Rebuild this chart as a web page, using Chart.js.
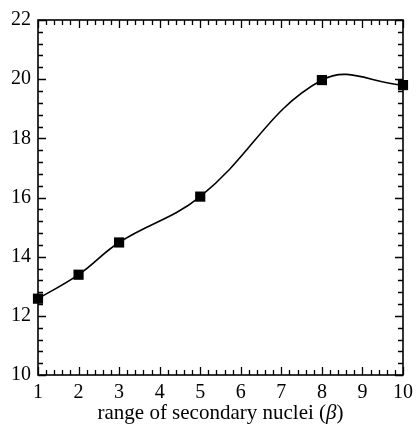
<!DOCTYPE html>
<html>
<head>
<meta charset="utf-8">
<script src="https://cdn.jsdelivr.net/npm/chart.js@4"></script>
<style>
  html, body { margin: 0; padding: 0; background: #fff; }
  #wrap { width: 419px; height: 426px; }
</style>
</head>
<body>
<div id="wrap"><canvas id="nucleiChart" width="419" height="426"></canvas></div>
<script>
// range of secondary nuclei vs. result
const betaRange = [1, 2, 3, 5, 8, 10];
const values = [12.58, 13.39, 14.48, 16.03, 19.97, 19.80];
const xTicks = [1, 2, 3, 4, 5, 6, 7, 8, 9, 10];
const yTicks = [10, 12, 14, 16, 18, 20, 22];

const serif = '"Liberation Serif", "Times New Roman", serif';

// inward ticks on all four sides + frame
const frameTicks = {
  id: 'frameTicks',
  afterDraw(chart) {
    const { ctx, chartArea: a, scales: { x, y } } = chart;
    ctx.save();
    ctx.strokeStyle = '#000';
    ctx.lineWidth = 1.3;
    ctx.beginPath();
    // x minor every 0.2, major every 1
    for (let i = 0; i <= 45; i++) {
      const v = 1 + i * 0.2;
      const px = Math.round(x.getPixelForValue(v)) + 0.5;
      const len = i % 5 === 0 ? 8 : 5;
      ctx.moveTo(px, a.bottom); ctx.lineTo(px, a.bottom - len);
      ctx.moveTo(px, a.top); ctx.lineTo(px, a.top + len);
    }
    // y minor every 0.4, major every 2
    for (let i = 0; i <= 30; i++) {
      const v = 10 + i * 0.4;
      const py = Math.round(y.getPixelForValue(v)) + 0.5;
      const len = i % 5 === 0 ? 8 : 5;
      ctx.moveTo(a.left, py); ctx.lineTo(a.left + len, py);
      ctx.moveTo(a.right, py); ctx.lineTo(a.right - len, py);
    }
    ctx.stroke();
    ctx.lineWidth = 1.6;
    ctx.strokeRect(a.left, a.top, a.right - a.left, a.bottom - a.top);
    ctx.restore();
  }
};

// axis title with italic beta
const xTitle = {
  id: 'xTitle',
  afterDraw(chart) {
    const { ctx, chartArea: a } = chart;
    const parts = [
      ['range of secondary nuclei (', '21px ' + serif],
      ['β', 'italic 21px ' + serif],
      [')', '21px ' + serif]
    ];
    ctx.save();
    ctx.fillStyle = '#000';
    ctx.textBaseline = 'alphabetic';
    let total = 0;
    parts.forEach(p => { ctx.font = p[1]; total += ctx.measureText(p[0]).width; });
    let cx = (a.left + a.right) / 2 - total / 2;
    parts.forEach(p => {
      ctx.font = p[1];
      ctx.fillText(p[0], cx, 419);
      cx += ctx.measureText(p[0]).width;
    });
    ctx.restore();
  }
};

new Chart(document.getElementById('nucleiChart'), {
  type: 'line',
  data: {
    datasets: [{
      data: betaRange.map((b, i) => ({ x: b, y: values[i] })),
      borderColor: '#000',
      borderWidth: 1.6,
      backgroundColor: '#000',
      tension: 0.4,
      pointStyle: 'rect',
      pointRadius: 7.2,
      pointBorderWidth: 0,
      fill: false,
      clip: false
    }]
  },
  options: {
    responsive: false,
    animation: false,
    layout: { padding: { top: 20, right: 9, left: 0, bottom: 0 } },
    plugins: {
      legend: { display: false },
      tooltip: { enabled: false }
    },
    scales: {
      x: {
        type: 'linear',
        min: 1,
        max: 10,
        grid: { display: false, drawTicks: false },
        border: { display: false },
        afterBuildTicks: s => { s.ticks = xTicks.map(v => ({ value: v })); },
        afterFit: s => { s.height = 51; },
        ticks: {
          color: '#000',
          padding: 6,
          font: { family: serif, size: 20 }
        }
      },
      y: {
        min: 10,
        max: 22,
        grid: { display: false, drawTicks: false },
        border: { display: false },
        afterBuildTicks: s => { s.ticks = yTicks.map(v => ({ value: v })); },
        afterFit: s => { s.width = 38; },
        ticks: {
          color: '#000',
          padding: 7,
          font: { family: serif, size: 20 }
        }
      }
    }
  },
  plugins: [frameTicks, xTitle]
});
</script>
</body>
</html>
